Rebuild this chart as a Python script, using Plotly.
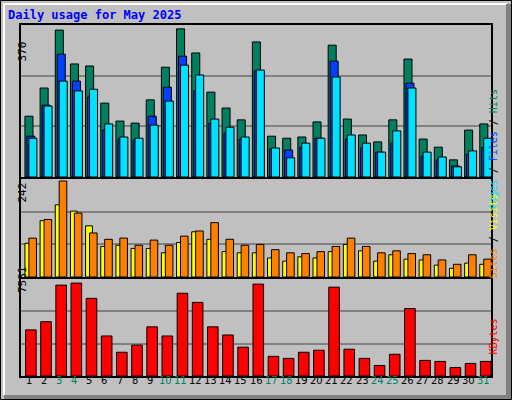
import plotly.graph_objects as go

days = list(range(1, 32))
weekend = [3, 4, 10, 11, 17, 18, 24, 25, 31]
hits = [149, 218, 360, 277, 272, 181, 137, 132, 189, 269, 363, 304, 208, 169, 140, 331,
        100, 95, 98, 135, 323, 142, 103, 86, 140, 289, 93, 73, 42, 115, 130]
files = [100, 176, 301, 235, 196, 115, 93, 91, 149, 220, 296, 211, 132, 108, 93, 260,
         69, 66, 73, 95, 284, 93, 71, 61, 83, 230, 51, 42, 27, 56, 73]
pages = [95, 174, 235, 211, 215, 130, 98, 95, 127, 186, 274, 250, 142, 122, 98, 262,
         71, 47, 83, 95, 245, 103, 83, 61, 113, 218, 61, 49, 25, 64, 95]
visits = [85, 142, 182, 166, 129, 77, 80, 72, 72, 61, 87, 114, 95, 64, 61, 61,
          48, 40, 51, 48, 64, 82, 66, 40, 56, 45, 43, 30, 22, 35, 32]
sites = [98, 145, 242, 161, 111, 95, 98, 80, 93, 80, 103, 116, 137, 95, 80, 82,
         69, 61, 59, 64, 77, 98, 77, 61, 66, 59, 56, 43, 32, 56, 45]
kbytes = [3763, 4427, 7415, 7581, 6336, 3265, 1937, 2518, 4012, 3265, 6751, 6004, 4012, 3348, 2352, 7498,
          1605, 1439, 1937, 2103, 7249, 2186, 1439, 858, 1771, 5506, 1273, 1190, 692, 1024, 1190]
max_hits, max_sites, max_kb = 370, 242, 7581

W, H = 512, 400
def py(p):
    return 1 - p / H
def px(p):
    return p / W

fig = go.Figure()
line = dict(color="black", width=1)
def bar(y, color, off, wid, xa, ya):
    fig.add_trace(go.Bar(x=days, y=y, marker=dict(color=color, line=line), offset=off, width=wid,
                         xaxis=xa, yaxis=ya, hoverinfo="skip"))

bar(hits, "#008060", -0.24, 0.53, "x", "y")
bar(files, "#0040ff", -0.11, 0.53, "x", "y")
bar(pages, "#00e0ff", 0.02, 0.53, "x", "y")
bar(visits, "#ffff00", -0.24, 0.45, "x2", "y2")
bar(sites, "#ff8000", 0.02, 0.5, "x2", "y2")
bar(kbytes, "#ff0000", -0.2, 0.7, "x3", "y3")

xd = [px(21), px(491)]
ax = dict(range=[0.5, 31.5], domain=xd, showticklabels=False, showgrid=False, zeroline=False,
          showline=True, mirror=True, linecolor="black", linewidth=2, fixedrange=True)
def yax(top, dom, anchor):
    return dict(range=[0, top], domain=dom, anchor=anchor, showticklabels=False, zeroline=False,
                showgrid=True, gridcolor="#808080", gridwidth=2, tickvals=[top / 3, 2 * top / 3],
                showline=True, mirror=True, linecolor="black", linewidth=2, fixedrange=True)

fig.update_layout(
    width=W, height=H, margin=dict(l=0, r=0, t=0, b=0), showlegend=False, barmode="overlay",
    paper_bgcolor="#c0c0c0", plot_bgcolor="#c0c0c0",
    xaxis=dict(ax, anchor="y"), xaxis2=dict(ax, anchor="y2"), xaxis3=dict(ax, anchor="y3"),
    yaxis=yax(max_hits * 152 / 151, [py(177), py(25)], "x"),
    yaxis2=yax(max_sites * 98 / 96, [py(277), py(179)], "x2"),
    yaxis3=yax(max_kb * 1.044, [py(376), py(279)], "x3"),
    font=dict(family="DejaVu Sans Mono"),
)

ann = []
ann.append(dict(x=px(6), y=py(15), xref="paper", yref="paper", xanchor="left", yanchor="middle",
                text="<b>Daily usage for May 2025</b>", showarrow=False,
                font=dict(color="#0000ff", size=12, family="DejaVu Sans Mono")))
for v, yp in [(max_hits, 40), (max_sites, 193), (max_kb, 295)]:
    ann.append(dict(x=px(14), y=py(yp), xref="paper", yref="paper", text=str(v), textangle=-90,
                    showarrow=False, font=dict(size=11, color="black", family="DejaVu Sans Mono")))
rf = dict(size=10, color="black", family="DejaVu Sans Mono")
ann.append(dict(x=px(500), y=py(88), xref="paper", yref="paper", textangle=-90, showarrow=False,
                text='<span style="color:#00e0ff">Pages</span> / <span style="color:#0040ff">Files</span> / <span style="color:#008060">Hits</span>',
                font=rf))
ann.append(dict(x=px(500), y=py(237), xref="paper", yref="paper", textangle=-90, showarrow=False,
                text='<span style="color:#ff8000">Sites</span> / <span style="color:#ffff00">Visits</span>',
                font=rf))
ann.append(dict(x=px(500), y=py(357), xref="paper", yref="paper", textangle=-90, showarrow=False,
                text='<span style="color:#ff0000">KBytes</span>', font=rf))
for d in days:
    ann.append(dict(x=d, y=py(388), xref="x3", yref="paper", text=str(d), showarrow=False,
                    font=dict(size=10, color="#008060" if d in weekend else "black",
                              family="DejaVu Sans")))
fig.update_layout(annotations=ann)

shapes = [
    dict(type="rect", xref="paper", yref="paper", x0=px(0.5), x1=px(511.5), y0=py(399.5), y1=py(0.5),
         line=dict(color="black", width=1)),
    dict(type="line", xref="paper", yref="paper", x0=px(3), x1=px(507), y0=py(4), y1=py(4),
         line=dict(color="white", width=2)),
    dict(type="line", xref="paper", yref="paper", x0=px(4), x1=px(4), y0=py(4), y1=py(395),
         line=dict(color="white", width=2)),
    dict(type="rect", xref="paper", yref="paper", x0=px(506), x1=px(511), y0=py(399), y1=py(4),
         fillcolor="#808080", line=dict(width=0)),
    dict(type="rect", xref="paper", yref="paper", x0=px(4), x1=px(511), y0=py(399), y1=py(395),
         fillcolor="#808080", line=dict(width=0)),
]
fig.update_layout(shapes=shapes)
fig.write_html("out.html", config={"displayModeBar": False},
               post_script="document.body.style.margin='0';document.body.style.overflow='hidden';")
